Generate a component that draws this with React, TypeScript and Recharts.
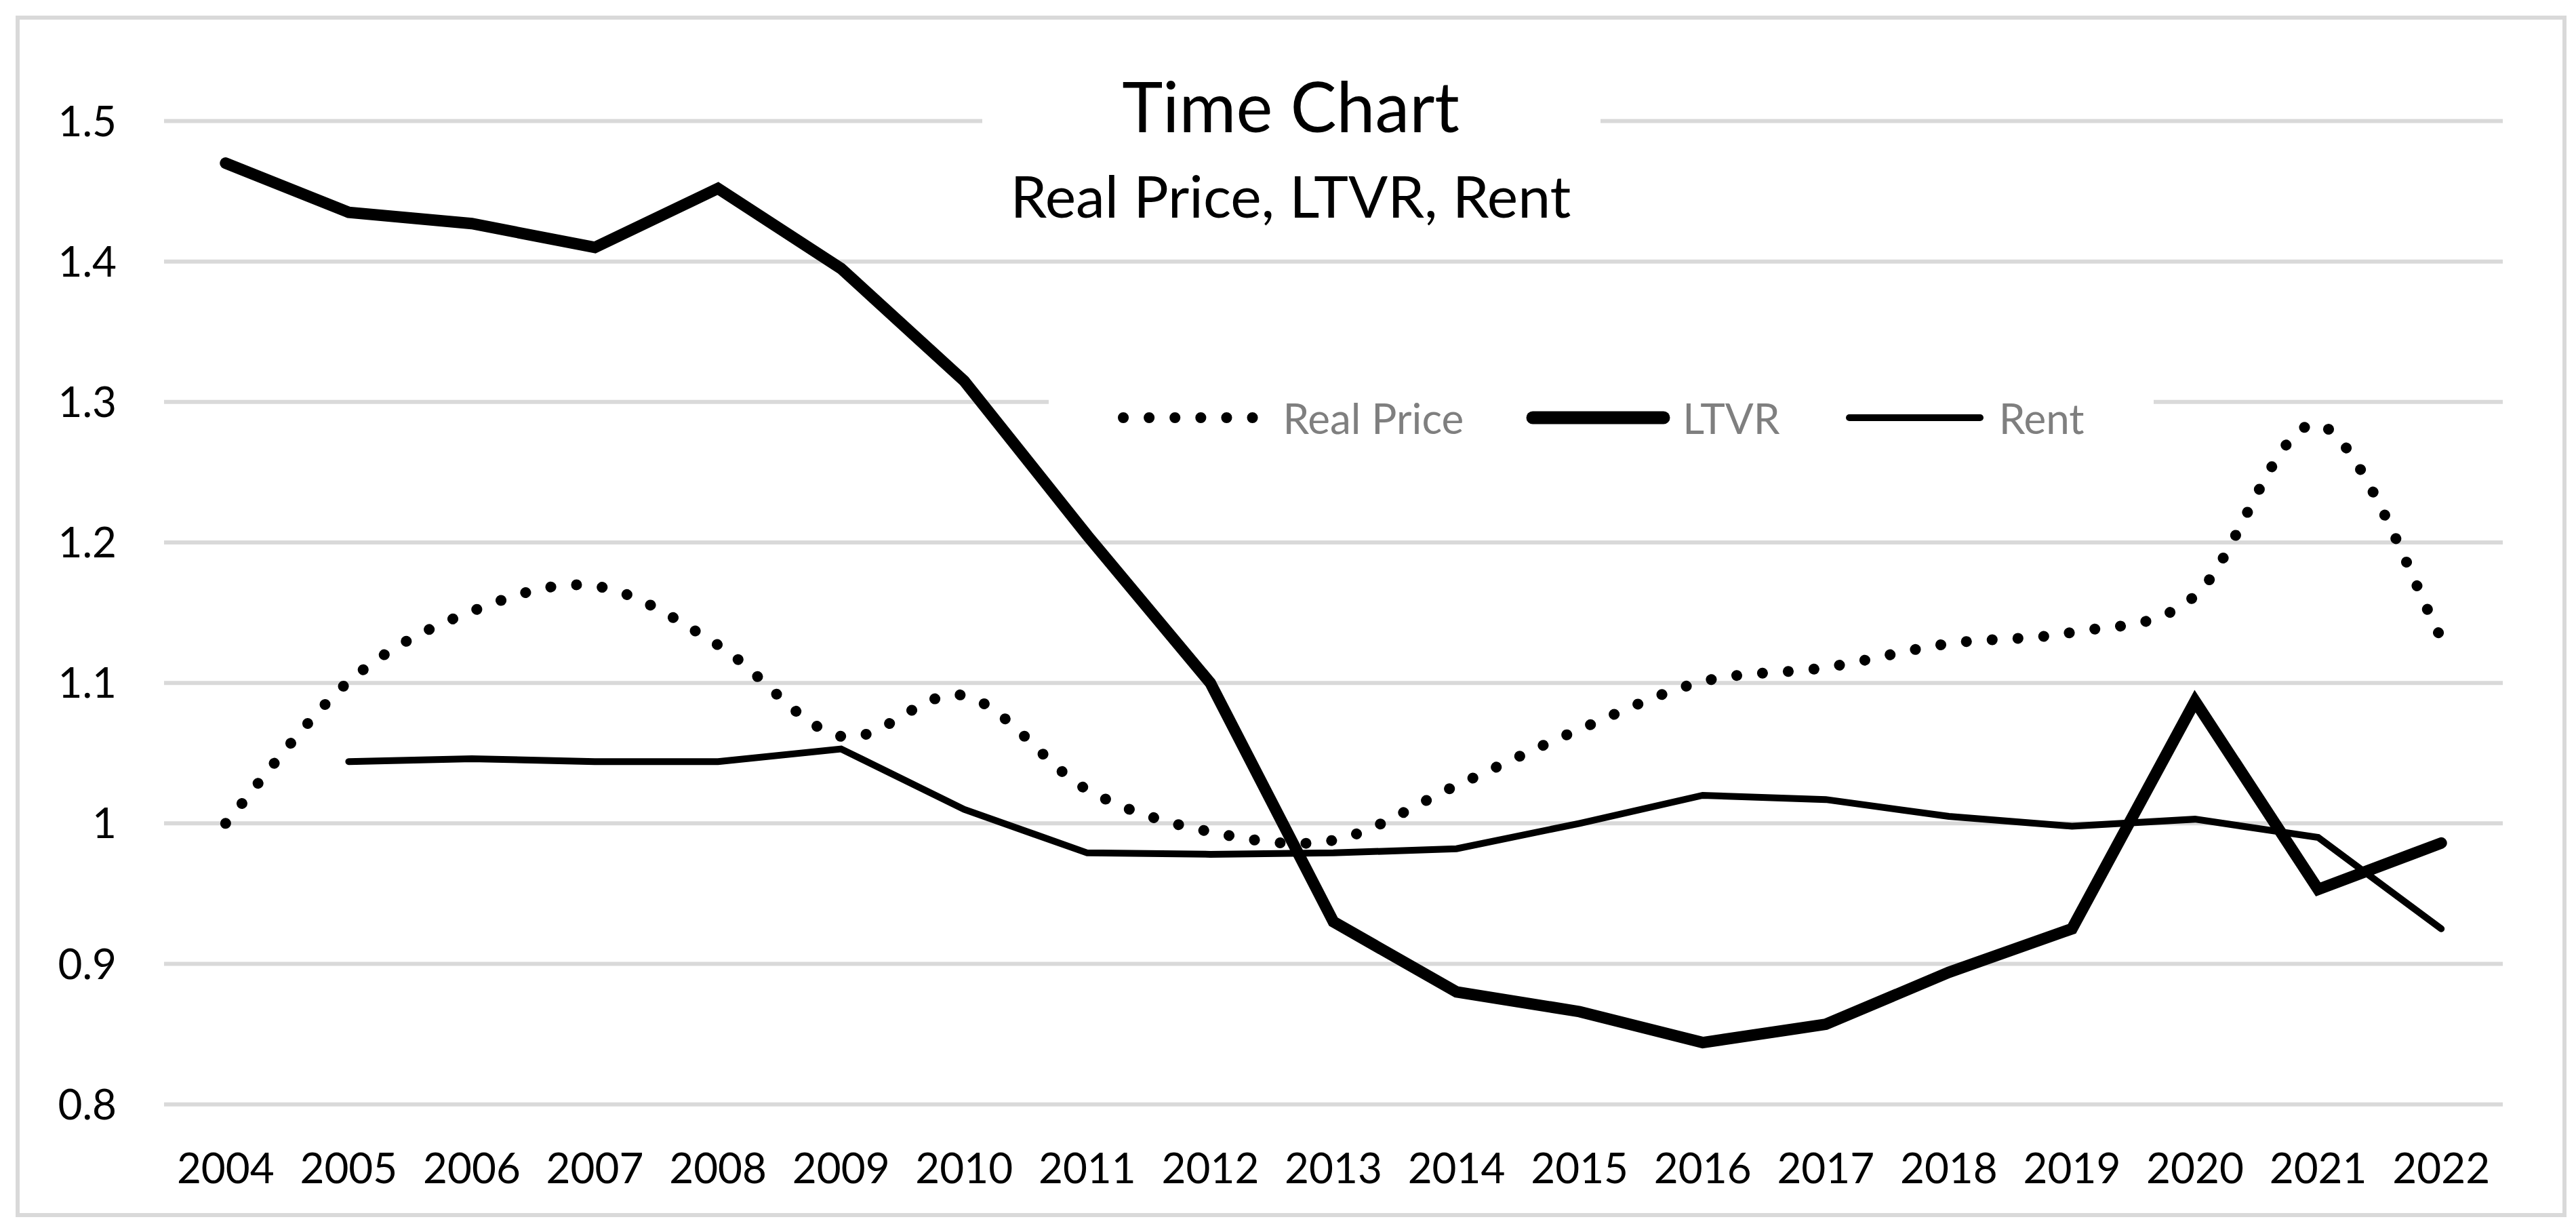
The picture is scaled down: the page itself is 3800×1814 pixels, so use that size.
import React from "react";
import {
  LineChart,
  Line,
  XAxis,
  YAxis,
  CartesianGrid,
  Legend,
} from "recharts";

const years = [
  "2004", "2005", "2006", "2007", "2008", "2009", "2010", "2011", "2012", "2013",
  "2014", "2015", "2016", "2017", "2018", "2019", "2020", "2021", "2022",
];

const realPrice = [
  1.0, 1.101, 1.151, 1.169, 1.127, 1.062, 1.091, 1.024, 0.994, 0.988,
  1.027, 1.067, 1.101, 1.111, 1.128, 1.136, 1.162, 1.284, 1.132,
];

const ltvr = [
  1.47, 1.435, 1.427, 1.41, 1.452, 1.395, 1.315, 1.205, 1.1, 0.93,
  0.88, 0.866, 0.844, 0.857, 0.894, 0.925, 1.087, 0.953, 0.986,
];

const rent = [
  null, 1.044, 1.046, 1.044, 1.044, 1.053, 1.01, 0.979, 0.978, 0.979,
  0.982, 1.0, 1.02, 1.017, 1.005, 0.998, 1.003, 0.99, 0.925,
];

const yTicks = [0.8, 0.9, 1.0, 1.1, 1.2, 1.3, 1.4, 1.5];

const data = years.map((year, i) => ({
  year,
  realPrice: realPrice[i],
  ltvr: ltvr[i],
  rent: rent[i],
}));

const FONT = "Lato, 'Open Sans', sans-serif";
const GRID = "#d9d9d9";

// Excel-like smoothed line (cardinal spline through every point)
function smoothCurve(context: any) {
  let pts: number[][] = [];
  return {
    areaStart() {},
    areaEnd() {},
    lineStart() {
      pts = [];
    },
    point(x: number, y: number) {
      pts.push([+x, +y]);
    },
    lineEnd() {
      if (!pts.length) return;
      const k = 1 / 6;
      context.moveTo(pts[0][0], pts[0][1]);
      for (let i = 0; i < pts.length - 1; i++) {
        const p0 = pts[Math.max(i - 1, 0)];
        const p1 = pts[i];
        const p2 = pts[i + 1];
        const p3 = pts[Math.min(i + 2, pts.length - 1)];
        context.bezierCurveTo(
          p1[0] + (p2[0] - p0[0]) * k,
          p1[1] + (p2[1] - p0[1]) * k,
          p2[0] - (p3[0] - p1[0]) * k,
          p2[1] - (p3[1] - p1[1]) * k,
          p2[0],
          p2[1]
        );
      }
    },
  };
}

const series = [
  { key: "realPrice", name: "Real Price", width: 16, dash: "0.1 38", smooth: true },
  { key: "ltvr", name: "LTVR", width: 17, dash: undefined, smooth: false },
  { key: "rent", name: "Rent", width: 10, dash: undefined, smooth: false },
];

function XTick(props: any) {
  const { x, y, payload } = props;
  return (
    <text x={x} y={y + 116} textAnchor="middle" fontFamily={FONT} fontSize={62} fill="#000">
      {payload.value}
    </text>
  );
}

function YTick(props: any) {
  const { x, y, payload } = props;
  return (
    <text x={x - 70} y={y + 22} textAnchor="end" fontFamily={FONT} fontSize={62} fill="#000">
      {String(Number(payload.value.toFixed(1)))}
    </text>
  );
}

function LegendContent() {
  return (
    <div
      style={{
        display: "flex",
        alignItems: "center",
        justifyContent: "center",
        gap: 90,
        height: "100%",
        background: "#fff",
      }}
    >
      {series.map((s) => (
        <div key={s.key} style={{ display: "flex", alignItems: "center" }}>
          <svg width={215} height={40}>
            <line
              x1={s.dash ? 8 : 12}
              x2={s.dash ? 200 : 205}
              y1={20}
              y2={20}
              stroke="#000"
              strokeWidth={s.key === "ltvr" ? 19 : s.width}
              strokeDasharray={s.dash}
              strokeLinecap="round"
            />
          </svg>
          <span
            style={{
              fontFamily: FONT,
              fontSize: 62,
              color: "#7f7f7f",
              marginLeft: s.dash ? 28 : 18,
              lineHeight: 1,
            }}
          >
            {s.name}
          </span>
        </div>
      ))}
    </div>
  );
}

export default function App() {
  return (
    <div
      style={{
        position: "absolute",
        left: 0,
        top: 0,
        width: 3800,
        height: 1814,
        background: "#fff",
      }}
    >
      <div
        style={{
          position: "absolute",
          left: 23,
          top: 23,
          width: 3763,
          height: 1772,
          border: `6px solid ${GRID}`,
          boxSizing: "border-box",
        }}
      />
      <LineChart
        width={3800}
        height={1814}
        data={data}
        margin={{ top: 178.5, right: 108, bottom: 85.3, left: 0 }}
      >
        <CartesianGrid vertical={false} stroke={GRID} strokeWidth={6} />
        <XAxis
          dataKey="year"
          axisLine={false}
          tickLine={false}
          tickSize={0}
          tickMargin={0}
          height={100}
          interval={0}
          padding={{ left: 90.8, right: 90.8 }}
          tick={<XTick />}
        />
        <YAxis
          domain={[0.8, 1.5]}
          ticks={yTicks}
          axisLine={false}
          tickLine={false}
          tickSize={0}
          tickMargin={0}
          width={242}
          interval={0}
          tick={<YTick />}
        />
        <Legend
          layout="horizontal"
          verticalAlign="middle"
          align="center"
          content={<LegendContent />}
          wrapperStyle={{ left: 1547, top: 560, width: 1630, height: 112 }}
        />
        {series.map((s) => (
          <Line
            key={s.key}
            dataKey={s.key}
            name={s.name}
            type={s.smooth ? (smoothCurve as any) : "linear"}
            stroke="#000"
            strokeWidth={s.width}
            strokeDasharray={s.dash}
            strokeLinecap="round"
            strokeLinejoin="miter"
            dot={false}
            activeDot={false}
            isAnimationActive={false}
          />
        ))}
      </LineChart>
      <svg
        width={3800}
        height={420}
        style={{ position: "absolute", left: 0, top: 0, pointerEvents: "none" }}
      >
        <rect x={1449} y={90} width={912} height={270} fill="#fff" />
        <text x={1904} y={195} textAnchor="middle" fontFamily={FONT} fontSize={102} fill="#000">
          Time Chart
        </text>
        <text x={1904} y={321} textAnchor="middle" fontFamily={FONT} fontSize={86} fill="#000">
          Real Price, LTVR, Rent
        </text>
      </svg>
    </div>
  );
}
